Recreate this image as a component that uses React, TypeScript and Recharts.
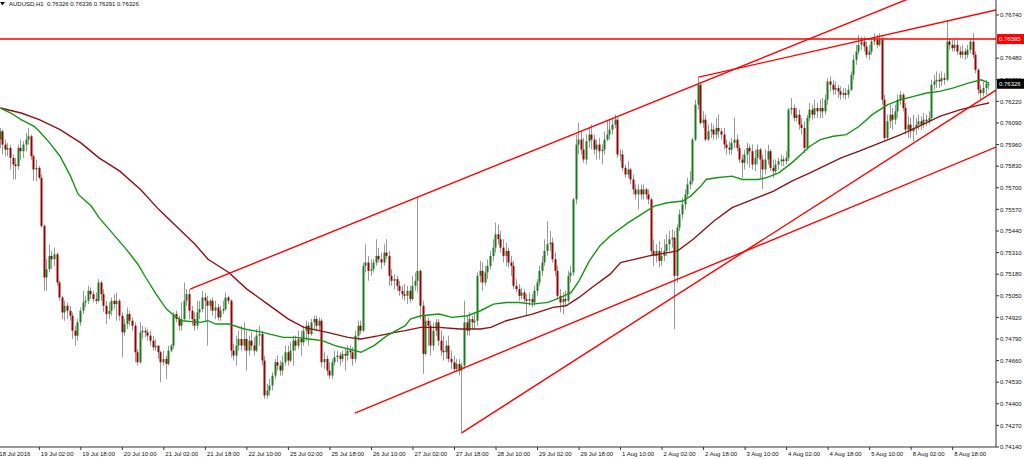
import { Bar, ComposedChart, Line, ReferenceLine, XAxis, YAxis } from "recharts";

// AUDUSD H1 candles (bar 0 = 18 Jul 11:00)
const closes = [
  0.7604, 0.7596, 0.7593, 0.7594, 0.7588, 0.7584, 0.7583, 0.7594, 0.7592, 0.7596,
  0.7599, 0.7601, 0.7589, 0.7581, 0.7582, 0.7576, 0.7547, 0.7516, 0.7521, 0.7529,
  0.7527, 0.753, 0.7513, 0.7504, 0.7495, 0.7499, 0.7496, 0.7493, 0.7484, 0.7481,
  0.7489, 0.7496, 0.7501, 0.7502, 0.7508, 0.7506, 0.7503, 0.7502, 0.7513, 0.7506,
  0.7499, 0.7494, 0.7496, 0.7502, 0.75, 0.7502, 0.7493, 0.7483, 0.7488, 0.7494,
  0.749, 0.7487, 0.7471, 0.7465, 0.7483, 0.7484, 0.7483, 0.7481, 0.7478, 0.7474,
  0.7475, 0.7471, 0.7465, 0.7467, 0.7464, 0.7472, 0.7475, 0.7494, 0.7491, 0.7487,
  0.7491, 0.7502, 0.7506, 0.7496, 0.7491, 0.7487, 0.7495,
  0.7497, 0.7504, 0.7502, 0.7499, 0.7502, 0.7496, 0.7498, 0.7492, 0.7496, 0.7497,
  0.7504, 0.7502, 0.7472, 0.7469, 0.7475, 0.7479, 0.7475, 0.7479, 0.7472, 0.7478,
  0.7475, 0.7472, 0.7481, 0.7482, 0.7466, 0.7445, 0.7448, 0.7451, 0.7457, 0.7465,
  0.7463, 0.746, 0.7465, 0.7471, 0.7466, 0.7472, 0.7478, 0.7475, 0.7479, 0.7477,
  0.7484, 0.7487, 0.7482, 0.7489, 0.7491, 0.7487, 0.749, 0.7465, 0.7467, 0.746,
  0.7457, 0.7465, 0.7468, 0.7469, 0.7467, 0.747, 0.7469, 0.7472, 0.7471, 0.7467,
  0.7481, 0.7487, 0.7484, 0.7523, 0.7525, 0.752, 0.7521, 0.7525, 0.7529, 0.7527,
  0.7525, 0.7531, 0.7529, 0.7517, 0.7514, 0.7515, 0.7511, 0.7508, 0.7506,
  0.7505, 0.7508, 0.7503, 0.7511, 0.7514, 0.752, 0.7499, 0.747, 0.749, 0.7487,
  0.7475, 0.7484, 0.7489, 0.7478, 0.7472, 0.7471, 0.7475, 0.7467, 0.7465, 0.7461,
  0.7464, 0.746, 0.7463, 0.7489, 0.7484, 0.7491, 0.7489, 0.749, 0.7517, 0.752,
  0.7513, 0.7519, 0.7523, 0.7529, 0.7534, 0.7542, 0.7539, 0.7534, 0.7529, 0.7532,
  0.7525, 0.7523, 0.7511, 0.7509, 0.7505, 0.7507, 0.7503, 0.7502, 0.7503, 0.7501,
  0.7508, 0.7513, 0.752, 0.7525, 0.7532, 0.7536, 0.7537, 0.7527, 0.752, 0.7505,
  0.7501, 0.7503, 0.7502, 0.7517, 0.7519, 0.7563, 0.7596, 0.7599, 0.7593, 0.7587,
  0.7598, 0.7602, 0.7599, 0.7593, 0.7596, 0.7592, 0.7593, 0.7599, 0.7602, 0.7605,
  0.7608, 0.7611, 0.759, 0.759, 0.7582, 0.7578, 0.7581, 0.7575, 0.7569, 0.7566,
  0.7569, 0.7566, 0.7569, 0.7566, 0.7563, 0.7532, 0.7529, 0.7532, 0.7526, 0.7529,
  0.7532, 0.7536, 0.7539, 0.754, 0.7517, 0.7546, 0.7554, 0.756, 0.7566, 0.7572,
  0.7574, 0.7599, 0.762, 0.7632, 0.7609, 0.7611, 0.7599, 0.7604, 0.7605, 0.7602,
  0.7606, 0.7604, 0.7602, 0.7596, 0.7594, 0.7593, 0.7597, 0.7599, 0.7594, 0.7587,
  0.7585, 0.759, 0.7594, 0.7592, 0.7584, 0.7588, 0.7593, 0.7587, 0.7581, 0.7587,
  0.7592, 0.7582, 0.758, 0.7584, 0.7586, 0.7587, 0.7586, 0.7588, 0.7617, 0.7618,
  0.7612, 0.7614, 0.7608, 0.7606, 0.7594, 0.7612, 0.7617, 0.7614, 0.7618, 0.7616,
  0.7618, 0.7616, 0.7623, 0.7634, 0.7632, 0.7629, 0.763, 0.7628, 0.7626, 0.7627,
  0.7626, 0.7629, 0.7638, 0.7647, 0.7652, 0.7656, 0.7658, 0.7655, 0.765, 0.7652,
  0.7658, 0.7659, 0.7656, 0.7659, 0.7623, 0.76, 0.761, 0.7614, 0.7611, 0.7616,
  0.7623, 0.7626, 0.7618, 0.7605, 0.7608, 0.7604, 0.7606, 0.7608, 0.761, 0.7608,
  0.7611, 0.761, 0.7612, 0.7632, 0.7634, 0.7635, 0.7634, 0.7636, 0.7635, 0.7658,
  0.7656, 0.7654, 0.7656, 0.7652, 0.765, 0.7652, 0.765, 0.7653, 0.7658, 0.765,
  0.7641, 0.7629, 0.7627, 0.763, 0.76326, 0.76326,
];

const highs = [
  0.7606, 0.7605, 0.7599, 0.7597, 0.7596, 0.759, 0.7588, 0.7596, 0.7599, 0.7598,
  0.7603, 0.7606, 0.7602, 0.759, 0.7587, 0.7583, 0.7578, 0.7548, 0.7527, 0.7536,
  0.7532, 0.7534, 0.7531, 0.7514, 0.7505, 0.7502, 0.7501, 0.7499, 0.7495, 0.7487,
  0.7491, 0.7498, 0.7508, 0.7505, 0.7511, 0.751, 0.7508, 0.7507, 0.7515, 0.7514,
  0.7509, 0.7502, 0.7501, 0.7504, 0.7506, 0.7507, 0.7503, 0.7495, 0.7491, 0.7498,
  0.7496, 0.7492, 0.7489, 0.7473, 0.7489, 0.7487, 0.7486, 0.7485, 0.7484, 0.7481,
  0.7479, 0.7475, 0.7472, 0.7472, 0.7469, 0.7475, 0.7476, 0.7495, 0.7496, 0.7493,
  0.7501, 0.7513, 0.7509, 0.7509, 0.7499, 0.7495, 0.7502,
  0.7502, 0.7508, 0.7507, 0.7505, 0.7503, 0.7504, 0.7502, 0.75, 0.7499, 0.7502,
  0.7507, 0.7505, 0.7503, 0.7476, 0.7481, 0.7484, 0.7487, 0.7489, 0.7484, 0.7481,
  0.7483, 0.748, 0.7485, 0.7487, 0.7484, 0.7469, 0.7452, 0.7455, 0.7459, 0.7467,
  0.7469, 0.7466, 0.7469, 0.7475, 0.7475, 0.7477, 0.7481, 0.7481, 0.7484, 0.7484,
  0.7487, 0.749, 0.7489, 0.7491, 0.7493, 0.7493, 0.7492, 0.7491, 0.7471, 0.7469,
  0.7465, 0.7467, 0.7472, 0.7472, 0.7471, 0.7472, 0.7473, 0.7475, 0.7475, 0.7474,
  0.7484, 0.749, 0.749, 0.7525, 0.7536, 0.7529, 0.7527, 0.7527, 0.7539, 0.7534,
  0.7531, 0.7536, 0.7539, 0.7532, 0.7521, 0.7518, 0.7517, 0.7514, 0.7511,
  0.7512, 0.7511, 0.7511, 0.7517, 0.7519, 0.7564, 0.7521, 0.7502, 0.7493, 0.7492,
  0.749, 0.7489, 0.7491, 0.7491, 0.7484, 0.7481, 0.7478, 0.7481, 0.7472, 0.7469,
  0.7467, 0.7467, 0.7465, 0.7502, 0.7493, 0.7495, 0.7493, 0.7494, 0.7519, 0.7526,
  0.7525, 0.7523, 0.7527, 0.7532, 0.7539, 0.7549, 0.7548, 0.7544, 0.7539, 0.7537,
  0.7534, 0.7529, 0.7526, 0.7515, 0.7512, 0.751, 0.7509, 0.7506, 0.7507, 0.7506,
  0.7511, 0.7515, 0.7523, 0.7529, 0.7539, 0.755, 0.7544, 0.754, 0.7531, 0.7523,
  0.7509, 0.7507, 0.7508, 0.752, 0.7523, 0.7564, 0.7602, 0.7609, 0.7604, 0.76,
  0.7602, 0.7606, 0.7608, 0.7602, 0.7599, 0.76, 0.7596, 0.7604, 0.7611, 0.7611,
  0.7612, 0.7614, 0.7612, 0.7593, 0.7593, 0.7584, 0.7586, 0.7582, 0.7578, 0.7572,
  0.7572, 0.7572, 0.7572, 0.757, 0.7569, 0.7564, 0.7539, 0.7536, 0.7538, 0.7534,
  0.7539, 0.7542, 0.7544, 0.7545, 0.7544, 0.7548, 0.7557, 0.7564, 0.7569, 0.7576,
  0.758, 0.76, 0.7623, 0.7637, 0.7634, 0.7616, 0.7614, 0.7608, 0.7609, 0.7608,
  0.7612, 0.7614, 0.7606, 0.7606, 0.7599, 0.7598, 0.76, 0.7612, 0.7602, 0.7596,
  0.759, 0.7593, 0.7597, 0.7596, 0.7596, 0.7593, 0.7596, 0.7594, 0.759, 0.7593,
  0.7596, 0.7593, 0.7587, 0.7587, 0.7588, 0.759, 0.7589, 0.7592, 0.7618, 0.7624,
  0.762, 0.7618, 0.7617, 0.7612, 0.761, 0.7614, 0.7621, 0.762, 0.7623, 0.7621,
  0.7623, 0.7624, 0.7626, 0.7636, 0.7637, 0.7635, 0.7634, 0.7632, 0.7631, 0.763,
  0.763, 0.7632, 0.764, 0.765, 0.7656, 0.7662, 0.7661, 0.7661, 0.7658, 0.7656,
  0.766, 0.7663, 0.7662, 0.7663, 0.7661, 0.7626, 0.7614, 0.762, 0.7618, 0.762,
  0.7626, 0.7628, 0.7627, 0.7621, 0.7613, 0.7612, 0.7614, 0.7612, 0.7614, 0.7613,
  0.7615, 0.7614, 0.7616, 0.7635, 0.7638, 0.764, 0.7639, 0.764, 0.7639, 0.7671,
  0.766, 0.7659, 0.7659, 0.7659, 0.7655, 0.7656, 0.7654, 0.7656, 0.766, 0.7663,
  0.7652, 0.7642, 0.7632, 0.7634, 0.7635, 0.76336,
];

const lows = [
  0.7594, 0.759, 0.7589, 0.7589, 0.7581, 0.7575, 0.7575, 0.7581, 0.7587, 0.7588,
  0.7592, 0.7596, 0.7587, 0.7574, 0.7574, 0.7575, 0.7546, 0.7508, 0.7508, 0.7519,
  0.7521, 0.7523, 0.7511, 0.7502, 0.7491, 0.749, 0.7491, 0.749, 0.7479, 0.7475,
  0.7478, 0.7487, 0.7494, 0.7498, 0.75, 0.7503, 0.7501, 0.75, 0.7501, 0.7502,
  0.7495, 0.7488, 0.7491, 0.7493, 0.7497, 0.749, 0.749, 0.7468, 0.7481, 0.7485,
  0.7487, 0.7484, 0.7465, 0.7463, 0.7464, 0.7479, 0.748, 0.7478, 0.7475, 0.7472,
  0.7472, 0.7467, 0.7453, 0.7463, 0.7455, 0.7463, 0.7471, 0.7473, 0.7489, 0.7484,
  0.7484, 0.749, 0.7499, 0.7491, 0.7487, 0.7484, 0.7485,
  0.7491, 0.7495, 0.749, 0.7475, 0.7496, 0.7493, 0.7491, 0.749, 0.749, 0.7494,
  0.7496, 0.75, 0.7468, 0.7466, 0.7463, 0.7472, 0.7472, 0.7472, 0.746, 0.7469,
  0.7472, 0.7469, 0.7471, 0.7475, 0.7463, 0.7443, 0.7443, 0.7445, 0.7448, 0.7455,
  0.746, 0.7457, 0.7457, 0.7463, 0.7463, 0.7465, 0.7463, 0.7472, 0.7473, 0.7469,
  0.7475, 0.7478, 0.7475, 0.7481, 0.7484, 0.7484, 0.7484, 0.7462, 0.7461, 0.7457,
  0.7455, 0.7455, 0.7463, 0.7465, 0.7463, 0.7465, 0.746, 0.7466, 0.7467, 0.7463,
  0.7465, 0.7478, 0.7482, 0.7483, 0.7519, 0.7514, 0.7517, 0.7519, 0.7523, 0.7525,
  0.7521, 0.7523, 0.7527, 0.7511, 0.7511, 0.7509, 0.7508, 0.7505, 0.7503,
  0.7502, 0.75, 0.7501, 0.7502, 0.7508, 0.7507, 0.7491, 0.7458, 0.7469, 0.7475,
  0.7469, 0.7472, 0.7481, 0.7475, 0.7469, 0.7466, 0.7467, 0.7465, 0.7461, 0.7459,
  0.7459, 0.7457, 0.7422, 0.7461, 0.7481, 0.7481, 0.7485, 0.7485, 0.7487, 0.7513,
  0.7508, 0.7511, 0.7515, 0.7521, 0.7526, 0.7531, 0.7536, 0.7531, 0.7525, 0.7523,
  0.7522, 0.7517, 0.7509, 0.7507, 0.7502, 0.7503, 0.7501, 0.7493, 0.7499, 0.7498,
  0.7499, 0.7505, 0.7511, 0.7517, 0.7523, 0.7529, 0.7532, 0.7525, 0.7517, 0.7503,
  0.7495, 0.7494, 0.7499, 0.7501, 0.7513, 0.7517, 0.756, 0.759, 0.759, 0.7585,
  0.7584, 0.7594, 0.7593, 0.759, 0.7587, 0.7587, 0.7584, 0.759, 0.7598, 0.7599,
  0.7602, 0.7606, 0.7588, 0.7586, 0.758, 0.7576, 0.7576, 0.7572, 0.7566, 0.7563,
  0.7557, 0.7563, 0.7563, 0.7563, 0.756, 0.7529, 0.7523, 0.7525, 0.7522, 0.7523,
  0.7526, 0.7529, 0.7532, 0.7534, 0.7485, 0.7513, 0.7544, 0.7551, 0.7557, 0.7564,
  0.7569, 0.7572, 0.7598, 0.7617, 0.7608, 0.7606, 0.7598, 0.7598, 0.76, 0.7599,
  0.7599, 0.76, 0.7599, 0.7593, 0.759, 0.759, 0.759, 0.7594, 0.7592, 0.7585,
  0.7576, 0.7581, 0.7584, 0.7582, 0.7581, 0.758, 0.7584, 0.7576, 0.7569, 0.7578,
  0.7584, 0.758, 0.7576, 0.7578, 0.7581, 0.7583, 0.7583, 0.7584, 0.7586, 0.7614,
  0.761, 0.761, 0.7605, 0.7602, 0.7591, 0.7593, 0.761, 0.7611, 0.7612, 0.7612,
  0.7612, 0.7612, 0.7614, 0.762, 0.7628, 0.7626, 0.7626, 0.7624, 0.7623, 0.7624,
  0.7623, 0.7624, 0.7628, 0.7635, 0.7644, 0.765, 0.7653, 0.7652, 0.7648, 0.7647,
  0.765, 0.7656, 0.7654, 0.7655, 0.762, 0.7598, 0.7599, 0.7606, 0.7605, 0.7608,
  0.7612, 0.762, 0.7616, 0.7602, 0.76, 0.76, 0.7598, 0.7602, 0.7605, 0.7605,
  0.7606, 0.7607, 0.7608, 0.761, 0.7629, 0.763, 0.763, 0.7631, 0.7632, 0.7634,
  0.7653, 0.7652, 0.7652, 0.765, 0.7648, 0.7648, 0.7647, 0.7648, 0.7651, 0.7648,
  0.7639, 0.7626, 0.7623, 0.7625, 0.7626, 0.76291,
];

// each hourly candle opens where the previous one closed
const opens = [0.7599, ...closes.slice(0, -1)];

// moving averages, read at these bar positions
const fastMaBars = [
  0, 4, 8, 13, 15, 19, 23, 27, 30, 35, 38, 43, 49, 53, 56, 60, 64, 67, 70, 77,
  80, 83, 88, 94, 101, 109, 114, 119, 124, 129, 134, 139, 144, 149, 156, 158, 162, 169, 174, 180,
  185, 190, 195, 200, 205, 211, 216, 220, 223, 227, 231, 235, 242, 247, 252, 257, 263, 266, 270, 272,
  276, 282, 286, 292, 295, 300, 305, 312, 316, 321, 326, 331, 336, 342, 347, 352, 357, 362, 367, 373,
  378, 381,
];
const fastMa = [
  0.7618, 0.7615, 0.7611, 0.7607, 0.7604, 0.7597, 0.7589, 0.7577, 0.7566, 0.7559,
  0.7552, 0.7543, 0.7532, 0.7524, 0.7516, 0.7506, 0.7497, 0.7493, 0.749, 0.7489,
  0.749, 0.7488, 0.7488, 0.7485, 0.7483, 0.748, 0.748, 0.7479, 0.7478, 0.7475,
  0.7473, 0.7471, 0.7475, 0.7481, 0.7487, 0.7491, 0.7493, 0.7494, 0.7492, 0.7493,
  0.7496, 0.75, 0.7501, 0.7501, 0.75, 0.7501, 0.7504, 0.7507, 0.7514, 0.7526,
  0.7535, 0.7541, 0.7549, 0.7554, 0.7559, 0.7561, 0.7562, 0.7565, 0.7571, 0.7575,
  0.7576, 0.7577, 0.7575, 0.7575, 0.7576, 0.7579, 0.7585, 0.7595, 0.7599, 0.7601,
  0.7602, 0.7607, 0.7614, 0.762, 0.7623, 0.7625, 0.7627, 0.7628, 0.763, 0.7633,
  0.7635, 0.7633,
];
const slowMaBars = [
  0, 8, 15, 23, 31, 38, 46, 54, 61, 69, 75, 80, 88, 95, 103, 111, 117, 126, 134, 139,
  146, 152, 156, 162, 169, 177, 185, 189, 195, 205, 213, 218, 223, 228, 235, 239, 250, 261, 267, 275,
  282, 290, 298, 305, 312, 316, 324, 331, 339, 347, 354, 362, 370, 378, 381,
];
const slowMa = [
  0.7618, 0.7615, 0.7611, 0.7605, 0.7597, 0.7588, 0.758, 0.7569, 0.7557, 0.7545,
  0.7536, 0.7527, 0.7519, 0.7509, 0.75, 0.7491, 0.7486, 0.7483, 0.748, 0.7479,
  0.7481, 0.7483, 0.7484, 0.7486, 0.7486, 0.7485, 0.7485, 0.7486, 0.749, 0.7494,
  0.7498, 0.7499, 0.7504, 0.751, 0.7518, 0.7525, 0.7529, 0.7532, 0.7539, 0.755,
  0.7558, 0.7563, 0.7568, 0.7574, 0.7579, 0.7582, 0.7588, 0.7592, 0.7597, 0.7602,
  0.7607, 0.7613, 0.7617, 0.762, 0.7621,
];

// hand drawn trend lines (bar position, price)
const trendFromBar = [73.1, 269.2, 136.6, 177.8];
const trendFromPrice = [0.7509, 0.76366, 0.74344, 0.74225];
const trendToBar = [383.7, 383.7, 383.7, 383.7];
const trendToPrice = [0.7705, 0.7677, 0.75945, 0.76288];

const resistance = 0.76595;
const lastPrice = 0.76326;

const timeTickBars = [
  -1, 15, 31, 47, 63, 79, 95, 111, 127, 143, 159, 175,
  191, 207, 223, 239, 255, 271, 287, 303, 319, 335, 351, 367,
];
const timeTickLabels = [
  "18 Jul 2016", "19 Jul 02:00", "19 Jul 18:00", "20 Jul 10:00", "21 Jul 02:00", "21 Jul 18:00",
  "22 Jul 10:00", "25 Jul 02:00", "25 Jul 18:00", "26 Jul 10:00", "27 Jul 02:00", "27 Jul 18:00",
  "28 Jul 10:00", "29 Jul 02:00", "29 Jul 18:00", "1 Aug 10:00", "2 Aug 02:00", "2 Aug 18:00",
  "3 Aug 10:00", "4 Aug 02:00", "4 Aug 18:00", "5 Aug 10:00", "8 Aug 02:00", "8 Aug 18:00",
];
// 0.76610 sits under the red level tag, so it is not listed
const priceTicks = [
  0.7414, 0.7427, 0.744, 0.7453, 0.7466, 0.7479, 0.7492, 0.7505, 0.7518, 0.7531, 0.7544,
  0.7557, 0.757, 0.7583, 0.7596, 0.7609, 0.7622, 0.7635, 0.7648, 0.7674,
];

const FONT = "'Liberation Sans', Arial, sans-serif";
const UP_BODY = "#1d7a1d";
const DOWN_BODY = "#9a0000";
const WICK = "#9a9a9a";

const candles = closes.map((close, i) => ({
  bar: i,
  open: opens[i],
  high: highs[i],
  low: lows[i],
  close,
}));
const fastMaData = fastMaBars.map((bar, k) => ({ bar, value: fastMa[k] }));
const slowMaData = slowMaBars.map((bar, k) => ({ bar, value: slowMa[k] }));

function Candle(props: any) {
  const { x, y, width, height, payload } = props;
  if (!payload || typeof y !== "number" || typeof x !== "number") return <g />;
  const top = Math.max(payload.high, payload.open, payload.close);
  const bottom = Math.min(payload.low, payload.open, payload.close);
  const y0 = Math.min(y, y + height);
  const h = Math.abs(height);
  const perUnit = top > bottom ? h / (top - bottom) : 0;
  const cx = Math.floor(x + (width || 0) / 2);
  const yOpen = y0 + (top - payload.open) * perUnit;
  const yClose = y0 + (top - payload.close) * perUnit;
  const up = payload.close >= payload.open;
  return (
    <g>
      <line x1={cx + 0.5} x2={cx + 0.5} y1={y0} y2={y0 + h} stroke={WICK} strokeWidth={1} />
      <rect
        x={cx - 0.5}
        y={Math.min(yOpen, yClose)}
        width={2}
        height={Math.max(Math.abs(yOpen - yClose), 1)}
        fill={up ? UP_BODY : DOWN_BODY}
      />
    </g>
  );
}

function TimeTick({ x, y, payload }: any) {
  const k = timeTickBars.indexOf(payload.value);
  return (
    <text x={x + 1.5} y={y + 4} fontSize={6} fontFamily={FONT} fill="#111" textAnchor="start">
      {timeTickLabels[k]}
    </text>
  );
}

function PriceTick({ x, y, payload }: any) {
  return (
    <text x={x - 1} y={y + 2.2} fontSize={6} fontFamily={FONT} fill="#111" textAnchor="start">
      {payload.value.toFixed(5)}
    </text>
  );
}

function PriceTag({ viewBox, text, bg }: any) {
  if (!viewBox) return null;
  const left = viewBox.x + viewBox.width + 1;
  return (
    <g>
      <rect x={left} y={viewBox.y - 5} width={27} height={10} fill={bg} />
      <text x={left + 2} y={viewBox.y + 2.2} fontSize={6} fontFamily={FONT} fill="#fff">
        {text}
      </text>
    </g>
  );
}

export default function App() {
  return (
    <div style={{ position: "absolute", left: -4, top: 0, width: 1028, height: 459, background: "#fff" }}>
      <ComposedChart
        width={1028}
        height={459}
        data={candles}
        margin={{ top: 0, right: 0, bottom: 0, left: 0 }}
      >
        <XAxis
          dataKey="bar"
          type="number"
          domain={[-1.694, 383.7]}
          allowDataOverflow
          ticks={timeTickBars}
          interval={0}
          height={12}
          tickSize={3}
          tick={<TimeTick />}
          axisLine={{ stroke: "#333" }}
          tickLine={{ stroke: "#333" }}
        />
        <YAxis
          orientation="right"
          type="number"
          domain={[0.7414, 0.7683]}
          allowDataOverflow
          ticks={priceTicks}
          interval={0}
          width={28}
          tickSize={3}
          tick={<PriceTick />}
          axisLine={{ stroke: "#333" }}
          tickLine={{ stroke: "#333" }}
        />
        <Bar
          dataKey={(d: any) => [Math.min(d.low, d.open, d.close), Math.max(d.high, d.open, d.close)]}
          shape={(p: any) => <Candle {...p} />}
          barSize={2}
          isAnimationActive={false}
        />
        <Line
          data={slowMaData}
          dataKey="value"
          type="linear"
          dot={false}
          activeDot={false}
          stroke="#8b1414"
          strokeWidth={1.4}
          isAnimationActive={false}
        />
        <Line
          data={fastMaData}
          dataKey="value"
          type="linear"
          dot={false}
          activeDot={false}
          stroke="#149614"
          strokeWidth={1.4}
          isAnimationActive={false}
        />
        {trendFromBar.map((bar, k) => (
          <ReferenceLine
            key={k}
            segment={[
              { x: bar, y: trendFromPrice[k] },
              { x: trendToBar[k], y: trendToPrice[k] },
            ]}
            stroke="#ff0000"
            strokeWidth={1.4}
            ifOverflow="hidden"
          />
        ))}
        <ReferenceLine
          y={resistance}
          stroke="#ff0000"
          strokeWidth={1.4}
          label={(p: any) => <PriceTag {...p} text={resistance.toFixed(5)} bg="#ff0000" />}
        />
        <ReferenceLine
          y={lastPrice}
          stroke="none"
          label={(p: any) => <PriceTag {...p} text={lastPrice.toFixed(5)} bg="#000" />}
        />
      </ComposedChart>
      <div
        style={{
          position: "absolute",
          left: 4,
          top: 0,
          fontFamily: FONT,
          fontSize: 6,
          lineHeight: "8px",
          color: "#111",
          whiteSpace: "pre",
        }}
      >
        <svg width={5} height={4} style={{ marginRight: 4, verticalAlign: "middle" }}>
          <polygon points="0,0 5,0 2.5,3.5" fill="#111" />
        </svg>
        {"AUDUSD,H1  0.76326 0.76336 0.76291 0.76326"}
      </div>
    </div>
  );
}
